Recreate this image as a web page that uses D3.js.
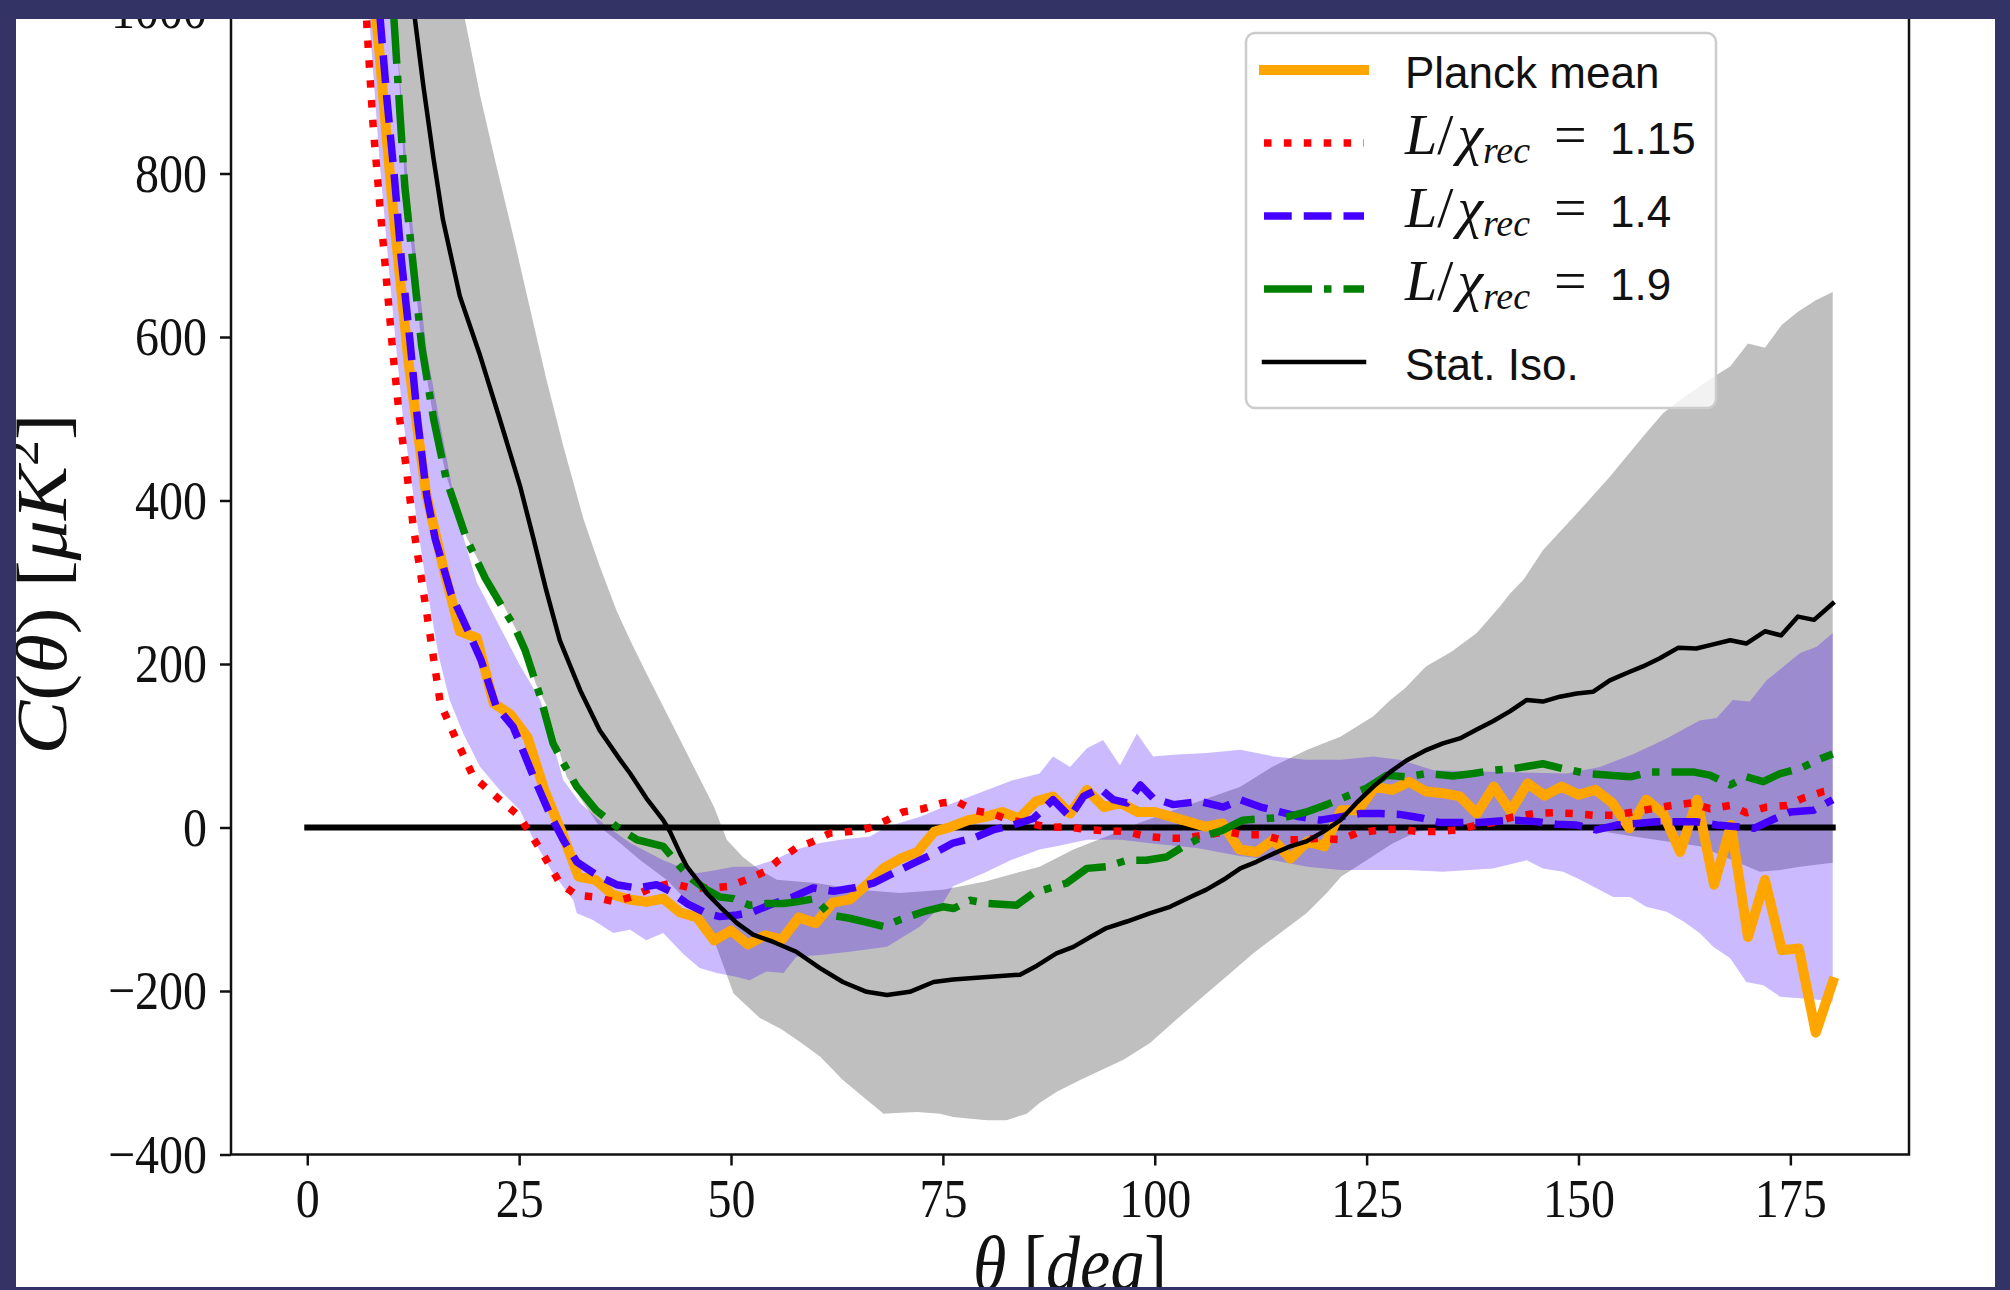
<!DOCTYPE html>
<html>
<head>
<meta charset="utf-8">
<script src="https://cdn.jsdelivr.net/npm/d3@7"></script>
<style>
  body{margin:0;background:#343366;}
</style>
</head>
<body>
<svg></svg>
<script>
// theta in degrees, C(theta) in muK^2
var planckMean = [[8,1010],[10,769],[12,565],[14,410],[16,320],[18,240],[20,232],[22,152],[24,138],[26,110],[28,45],[30,-5],[32,-60],[34,-64],[36,-82],[38,-88],[40,-91],[42,-87],[44,-104],[46,-110],[48,-138],[50,-126],[52,-143],[54,-132],[56,-137],[58,-110],[60,-117],[62,-92],[64,-88],[66,-70],[68,-50],[70,-38],[72,-30],[74,-5],[76,1],[78,9],[80,13],[82,19],[84,11],[86,32],[88,38],[90,17],[92,46],[94,25],[96,30],[98,19],[100,19],[102,13],[104,7],[106,1],[108,5],[110,-27],[112,-30],[114,-15],[116,-38],[118,-17],[120,-23],[122,21],[124,21],[126,50],[128,46],[130,56],[132,44],[134,42],[136,38],[138,17],[140,50],[142,20],[144,54],[146,39],[148,50],[150,40],[152,46],[154,30],[156,-1],[158,34],[160,17],[162,-30],[164,34],[166,-70],[168,3],[170,-134],[172,-64],[174,-150],[176,-148],[178,-251],[180,-189]];

var ratio115 = [[6.6,1060],[7.2,952],[7.8,854],[8.6,757],[9.4,663],[10.1,581],[10.9,500],[11.7,438],[12.5,369],[14.1,262],[15.7,152],[17.6,107],[19.6,62],[22.7,34],[24.9,15],[26.3,-7],[27.5,-27],[29.8,-68],[31.8,-83],[33.9,-85],[36.3,-91],[38.5,-84],[40.6,-74],[43.0,-68],[45.2,-74],[47.5,-74],[49.7,-72],[51.8,-64],[54.0,-54],[55.6,-40],[57.7,-25],[59.7,-17],[61.7,-7],[64.0,-5],[66.2,-1],[68.4,9],[70.3,19],[72.7,23],[74.9,30],[76.6,32],[78.6,21],[80.8,17],[82.9,9],[85.3,5],[87.5,0],[89.6,1],[92.4,-3],[96.7,-5],[99.0,-11],[101.4,-13],[103.4,-13],[106.1,-9],[108.5,-5],[110.5,-9],[112.8,-9],[114.8,-15],[117.1,-15],[119.5,-13],[121.9,-15],[123.8,-7],[126.6,-3],[128.9,-2],[131.0,-5],[133.3,-5],[135.6,-3],[138.0,3],[140.0,6],[142.3,13],[144.7,17],[147.0,18],[149.4,17],[151.7,15],[154.1,15],[156.5,19],[158.8,23],[161.0,27],[163.3,30],[165.5,23],[167.9,27],[169.8,18],[172.2,25],[174.6,27],[176.5,36],[178.9,44],[180,46]];

var ratio14 = [[8.0,1090],[8.6,989],[9.4,891],[10.3,793],[11.1,695],[12.1,597],[13.0,500],[14.1,406],[15.1,353],[17.0,285],[19.0,240],[20.5,205],[22.3,148],[24.3,123],[25.1,103],[26.7,62],[28.6,17],[30.2,-15],[31.8,-42],[34.1,-58],[36.5,-70],[38.9,-74],[41.2,-70],[42.8,-78],[44.8,-93],[47.1,-105],[48.7,-109],[50.7,-107],[52.6,-103],[55.0,-93],[57.3,-85],[59.7,-74],[62.1,-78],[64.4,-74],[66.8,-68],[69.1,-56],[71.5,-44],[73.9,-32],[76.2,-19],[78.6,-13],[80.9,-3],[83.3,3],[85.7,11],[88.0,34],[90.0,13],[91.6,38],[93.5,48],[95.1,34],[96.7,30],[98.3,52],[99.8,36],[102.2,28],[105.3,32],[108.1,25],[110.1,34],[112.5,25],[114.8,19],[117.1,13],[119.5,9],[121.9,13],[124.2,17],[126.6,17],[128.9,16],[131.3,12],[133.6,6],[136.0,6],[138.3,6],[140.7,8],[142.7,9],[145.1,7],[147.4,4],[149.8,3],[152.1,-3],[154.5,3],[156.9,5],[159.2,7],[161.6,7],[163.9,7],[166.3,3],[168.7,1],[170.7,-1],[173.2,11],[175.0,19],[177.7,21],[180.0,34]];

var ratio19 = [[9.6,1090],[10.3,977],[10.9,879],[11.5,785],[12.5,687],[13.5,589],[14.9,500],[16.4,426],[18.8,353],[21.0,305],[23.0,270],[24.5,245],[25.7,217],[27.5,160],[29.0,103],[30.2,79],[31.8,50],[34.1,21],[36.5,1],[38.9,-15],[42.0,-23],[44.0,-48],[45.5,-64],[47.1,-76],[48.7,-85],[50.3,-87],[52.2,-95],[54.2,-93],[56.2,-93],[57.7,-91],[59.9,-87],[61.7,-107],[64.0,-111],[66.4,-117],[68.0,-121],[69.9,-113],[72.7,-103],[75.0,-97],[76.3,-99],[78.2,-89],[80.2,-93],[83.7,-95],[85.7,-80],[89.6,-68],[92.0,-50],[94.3,-48],[96.7,-40],[99.0,-40],[101.4,-36],[103.4,-23],[105.7,-11],[108.1,-3],[110.4,9],[113.2,11],[115.6,13],[117.9,19],[120.3,28],[122.6,38],[125.0,48],[127.4,64],[129.7,62],[132.1,66],[135.2,63],[137.6,66],[139.9,70],[142.3,72],[145.8,78],[148.2,72],[151.0,66],[153.7,64],[156.1,62],[158.4,68],[160.8,68],[163.5,68],[165.5,64],[167.9,52],[169.8,62],[171.8,56],[173.8,66],[176.1,72],[178.5,84],[180.0,90]];

var statIso = [[12.0,1070],[12.7,989],[13.7,907],[14.9,818],[16.0,744],[18.0,650],[20.4,577],[22.7,500],[25.1,418],[26.7,353],[28.2,290],[29.8,229],[32.2,168],[34.5,119],[36.9,83],[38.1,66],[40.0,36],[42.0,9],[42.8,-5],[44.0,-32],[44.8,-48],[46.3,-68],[47.1,-80],[48.7,-97],[50.7,-117],[52.6,-131],[55.0,-140],[57.7,-152],[60.5,-172],[63.2,-189],[66.0,-201],[68.4,-205],[71.1,-201],[73.9,-189],[76.2,-186],[80.2,-183],[84.1,-180],[86.1,-169],[88.4,-154],[90.4,-146],[92.4,-134],[94.3,-123],[96.7,-115],[99.4,-105],[101.8,-97],[104.2,-85],[106.1,-76],[108.1,-64],[110.1,-50],[112.0,-42],[114.0,-32],[116.0,-23],[117.9,-17],[119.9,-5],[121.9,9],[123.8,30],[125.8,50],[127.8,68],[129.7,82],[132.1,95],[134.0,103],[136.0,109],[138.0,120],[139.9,130],[141.9,142],[143.9,156],[145.8,154],[147.8,160],[149.8,164],[151.7,166],[153.7,180],[155.7,189],[157.6,197],[159.6,207],[161.8,220],[163.9,219],[165.9,224],[167.9,229],[169.8,225],[172.0,240],[173.9,235],[175.9,258],[177.8,254],[180.0,274]];

// grey band (stat. iso.) edges
var isoUpper = [[13.0,1700],[16.5,1250],[18.6,989],[20.4,895],[22.3,810],[24.3,724],[26.3,634],[28.2,549],[30.2,467],[32.6,377],[34.5,320],[36.5,265],[38.1,229],[40.0,189],[42.0,148],[44.0,107],[46.0,66],[48.0,25],[49.5,-15],[51.4,-36],[53.4,-52],[55.4,-64],[60.0,-68],[65.0,-76],[70.0,-80],[75.0,-76],[80.0,-66],[86.4,-48],[90.4,-27],[94.3,-11],[98.0,5],[102.2,21],[106.0,35],[110.1,50],[114.0,75],[118.0,95],[121.9,111],[125.8,136],[127.8,156],[129.5,170],[132.0,197],[135.0,215],[138.0,238],[140.7,270],[141.9,286],[143.5,303],[145.8,339],[149.8,384],[153.7,429],[157.6,478],[160.0,507],[162.0,523],[165.9,551],[167.9,564],[170.0,592],[172.0,587],[174.0,615],[175.9,631],[178.0,645],[180.0,655]];
var isoLower = [[9.8,1250],[10.5,980],[11.5,790],[12.5,690],[13.5,590],[14.9,500],[16.4,430],[18.8,355],[21.0,310],[23.0,275],[25.0,235],[27.0,175],[28.2,150],[30.6,62],[32.6,30],[34.5,1],[36.9,-19],[39.3,-40],[42.4,-64],[45.5,-97],[47.9,-135],[50.3,-203],[53.4,-233],[56.0,-247],[58.1,-262],[60.5,-280],[63.2,-309],[66.0,-333],[68.0,-350],[70.0,-349],[72.0,-348],[74.7,-350],[76.2,-354],[78.0,-356],[80.2,-358],[82.5,-358],[84.9,-350],[86.4,-337],[88.5,-323],[91.2,-309],[96.3,-284],[99.4,-264],[103.0,-231],[106.1,-203],[108.5,-182],[111.6,-154],[114.8,-129],[117.9,-105],[120.3,-80],[122.0,-60],[125.0,-40],[128.0,-20],[131.0,-5],[134.0,1],[140.0,3],[150.0,0],[156.5,-11],[164.3,-23],[168.2,-40],[171.4,-54],[173.8,-52],[176.1,-48],[180.0,-43]];

// purple band (L/chi = 1.4) edges
var bandUpper = [[9.5,1150],[10.5,977],[11.9,785],[14.1,581],[17.8,377],[20.0,300],[22.5,250],[25.0,200],[27.5,156],[28.8,110],[30.2,58],[32.2,30],[34.9,5],[38.1,-19],[42.0,-40],[45.9,-56],[48.3,-52],[50.3,-48],[52.6,-48],[55.0,-40],[57.7,-27],[60.5,-19],[62.9,-15],[66.4,-11],[68.4,1],[72.3,13],[76.2,30],[80.2,46],[83.3,58],[86.4,66],[88.0,87],[90.0,74],[92.0,97],[93.9,107],[95.9,76],[97.9,115],[99.8,87],[102.2,89],[106.1,91],[110.1,95],[114.0,87],[117.9,83],[121.9,83],[125.8,87],[128.9,83],[132.9,70],[140.7,68],[148.6,66],[152.5,74],[156.5,90],[160.4,109],[164.3,131],[166.3,134],[168.2,156],[170.2,154],[172.2,180],[174.2,197],[176.1,213],[178.1,221],[180.0,238]];
var bandLower = [[6.5,1150],[7.4,977],[8.5,820],[9.8,663],[11.3,500],[12.9,377],[14.0,300],[15.5,210],[16.8,156],[18.4,115],[20.4,74],[22.7,46],[25.1,21],[26.7,-15],[29.0,-56],[31.4,-89],[31.8,-105],[33.7,-113],[36.1,-129],[38.1,-125],[40.0,-138],[42.0,-129],[44.4,-155],[46.3,-172],[48.3,-178],[50.3,-182],[52.2,-187],[54.2,-176],[56.2,-178],[57.7,-158],[60.5,-156],[64.0,-152],[68.4,-146],[72.3,-121],[74.8,-96],[76.2,-72],[80.0,-55],[83.0,-40],[86.4,-27],[88.4,-23],[92.0,-15],[96.0,-15],[100.0,-20],[105.0,-25],[110.0,-35],[114.0,-40],[118.0,-48],[121.9,-52],[129.7,-52],[134.0,-54],[139.9,-50],[143.9,-40],[145.8,-50],[148.2,-54],[150.2,-64],[154.1,-85],[156.1,-85],[158.0,-97],[160.4,-103],[162.4,-115],[164.3,-129],[165.9,-146],[167.9,-160],[169.8,-189],[171.8,-193],[173.8,-207],[176.1,-209],[178.5,-211],[180.0,-213]];

var xTicks = [0,25,50,75,100,125,150,175];
var yTicks = [-400,-200,0,200,400,600,800,1000];
var ratioLabels = ["1.15","1.4","1.9"];

var scren = {width:2010,height:1290};
var serif = "'Liberation Serif','DejaVu Serif',serif";
var sans = "'Liberation Sans','DejaVu Sans',sans-serif";

var svg = d3.select("svg")
            .attr("width",scren.width)
            .attr("height",scren.height);

var defs = svg.append("defs");
defs.append("clipPath").attr("id","page")
    .append("rect").attr("x",16).attr("y",19).attr("width",1979).attr("height",1268);

var box = {left:231,right:1909,top:10,bottom:1154.5};
defs.append("clipPath").attr("id","axes")
    .append("rect").attr("x",box.left).attr("y",box.top)
    .attr("width",box.right-box.left).attr("height",box.bottom-box.top);

svg.append("rect").attr("width",scren.width).attr("height",scren.height).attr("fill","#343366");

var page = svg.append("g").attr("clip-path","url(#page)");
page.append("rect").attr("x",16).attr("y",19).attr("width",1979).attr("height",1268).attr("fill","white");

var xScale = d3.scaleLinear().domain([-9,189]).range([box.left,box.right]);
var yScale = d3.scaleLinear().domain([-400,1000]).range([box.bottom,box.top]);

var line = d3.line()
             .x(function(d){return xScale(d[0]);})
             .y(function(d){return yScale(d[1]);});

var band = function(upper,lower)
{
  return line(upper.concat(lower.slice().reverse()))+"Z";
}

var plot = page.append("g").attr("clip-path","url(#axes)");

plot.append("path").attr("d",band(isoUpper,isoLower)).attr("fill","#bfbfbf");
plot.append("path").attr("d",band(bandUpper,bandLower)).attr("fill","#4400ff").attr("fill-opacity",0.27);

plot.append("path")
    .attr("d",line([[0,0],[180,0]]))
    .attr("stroke","black").attr("stroke-width",6).attr("stroke-linecap","square").attr("fill","none");

var styles = [
  {data:planckMean,color:"#ffa500",width:10,dash:null,cap:"square"},
  {data:ratio115,color:"#ff0000",width:7.5,dash:"7.5,12.4",cap:"butt"},
  {data:ratio14,color:"#4400ff",width:7.5,dash:"27.75,12",cap:"butt"},
  {data:ratio19,color:"#008000",width:7.5,dash:"48,12,7.5,12",cap:"butt"},
  {data:statIso,color:"black",width:4.5,dash:null,cap:"square"}
];

styles.forEach(function(s)
{
  plot.append("path")
      .attr("d",line(s.data))
      .attr("fill","none")
      .attr("stroke",s.color)
      .attr("stroke-width",s.width)
      .attr("stroke-dasharray",s.dash)
      .attr("stroke-linecap",s.cap)
      .attr("stroke-linejoin","round");
});

// axes
var xAxis = page.append("g")
                .attr("transform","translate(0,"+box.bottom+")")
                .call(d3.axisBottom(xScale).tickValues(xTicks).tickFormat(d3.format("d"))
                        .tickSize(11).tickSizeOuter(0).tickPadding(9));
var yAxis = page.append("g")
                .attr("transform","translate("+box.left+",0)")
                .call(d3.axisLeft(yScale).tickValues(yTicks).tickFormat(d3.format("d"))
                        .tickSize(11).tickSizeOuter(0).tickPadding(13));

[xAxis,yAxis].forEach(function(a)
{
  a.select(".domain").remove();
  a.selectAll("line").attr("stroke","#111").attr("stroke-width",2.5);
  a.selectAll("text")
   .attr("font-family",serif)
   .attr("font-size",48)
   .attr("fill","#111")
   .attr("transform","scale(1,1.15)");
});

page.append("rect")
    .attr("x",box.left).attr("y",box.top)
    .attr("width",box.right-box.left).attr("height",box.bottom-box.top)
    .attr("fill","none").attr("stroke","#111").attr("stroke-width",2.5);

// axis labels
var ylab = page.append("text")
               .attr("transform","translate(66,584) rotate(-90) scale(1.12,1)")
               .attr("text-anchor","middle")
               .attr("font-family",serif)
               .attr("font-size",72)
               .attr("fill","#111");
ylab.append("tspan").attr("font-style","italic").text("C");
ylab.append("tspan").text("(");
ylab.append("tspan").attr("font-style","italic").text("θ");
ylab.append("tspan").text(") [");
ylab.append("tspan").attr("font-style","italic").text("μK");
ylab.append("tspan").attr("font-size",46).attr("dy",-28).text("2");
ylab.append("tspan").attr("dy",28).text("]");

var xlab = page.append("text")
               .attr("transform","translate(1070,1290) scale(1,1.15)")
               .attr("text-anchor","middle")
               .attr("font-family",serif)
               .attr("font-size",68)
               .attr("fill","#111");
xlab.append("tspan").attr("font-style","italic").text("θ");
xlab.append("tspan").text(" [");
xlab.append("tspan").attr("font-style","italic").text("deg");
xlab.append("tspan").text("]");

// legend
var legend = page.append("g");
legend.append("rect")
      .attr("x",1246).attr("y",33).attr("width",470).attr("height",375).attr("rx",9)
      .attr("fill","white").attr("fill-opacity",0.8)
      .attr("stroke","#cccccc").attr("stroke-width",2.5);

styles.forEach(function(s,i)
{
  var rowY = 70+i*73;
  legend.append("line")
        .attr("x1",1264).attr("x2",1364).attr("y1",rowY).attr("y2",rowY)
        .attr("stroke",s.color).attr("stroke-width",s.width)
        .attr("stroke-dasharray",s.dash).attr("stroke-linecap",s.cap);

  if(i==0 || i==4)
  {
    legend.append("text")
          .attr("x",1405).attr("y",rowY+18)
          .attr("font-family",sans).attr("font-size",44).attr("fill","#111")
          .text(i==0 ? "Planck mean" : "Stat.  Iso.");
  }
  else
  {
    var t = legend.append("text")
                  .attr("x",1405).attr("y",rowY+11)
                  .attr("font-family",serif).attr("font-size",58).attr("fill","#111");
    t.append("tspan").attr("font-style","italic").text("L");
    t.append("tspan").text("/");
    t.append("tspan").attr("font-style","italic").attr("dx",4).text("χ");
    t.append("tspan").attr("font-style","italic").attr("font-size",38).attr("dy",9).text("rec");
    t.append("tspan").attr("x",1554).attr("dy",-9).text("=");
    t.append("tspan").attr("x",1610).attr("font-family",sans).attr("font-size",44).text(ratioLabels[i-1]);
  }
});
</script>
</body>
</html>
